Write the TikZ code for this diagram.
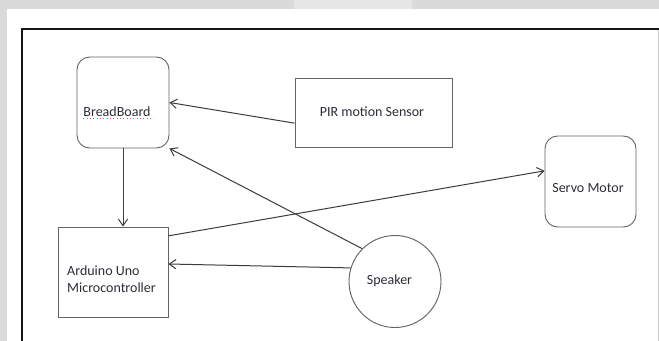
\documentclass[tikz,border=0pt]{standalone}
\usepackage{fontspec}
\setmainfont{Carlito}
\usepackage{tikz}
\usetikzlibrary{positioning, calc, arrows.meta}
\definecolor{pgBack}{RGB}{218, 218, 218}
\definecolor{pgMark}{RGB}{230, 230, 230}
\definecolor{pgLine}{RGB}{60, 60, 60}
\definecolor{pgEdge}{RGB}{100, 100, 100}
\definecolor{pgText}{RGB}{45, 45, 55}
\definecolor{pgFrame}{RGB}{20, 20, 20}
\tikzset{
    base/.style={
        font=\fontsize{10.5}{12.75}\selectfont,
        text=pgText,
        inner sep=0pt
    },
    block/.style={
        rectangle,
        draw=pgEdge,
        line width=0.7pt,
        fill=white
    },
    softblock/.style={
        block,
        rounded corners=9.5pt
    },
    sound/.style={
        circle,
        draw=pgEdge,
        line width=0.7pt,
        fill=white,
        minimum size=69pt
    },
    flow/.style={
        -{Straight Barb[length=5pt, width=7pt]},
        line width=0.75pt,
        color=pgLine
    },
    caption/.style={
        base,
        align=left
    }
}
\begin{document}
\begin{tikzpicture}[x=0.75pt, y=-0.75pt]
  % Page
  \useasboundingbox (0,0) rectangle (659,341);
  \fill[pgBack] (0,0) rectangle (659,341);
  \fill[pgMark] (294,0) rectangle (412,9);
  \fill[white] (7,9) rectangle (659,341);
  \draw[gray!40, line width=0.6pt] (658,30) -- (658,341);
  \draw[pgFrame, line width=1.6pt] (659,29) -- (22,29) -- (22,341);

  % Blocks
  \node[softblock, minimum width=69pt, minimum height=68.25pt] (bread) at (123,102.5) {};
  \node[block, minimum width=117.75pt, minimum height=51.75pt] (pir) at (373.5,112.5) {};
  \node[softblock, minimum width=68.25pt, minimum height=68.25pt] (servo) at (590.5,181.5) {};
  \node[block, minimum width=82.5pt, minimum height=67.5pt] (ard) at (113,272) {};
  \node[sound] (spk) at (395,281.5) {};

  % Texts
  \node[caption] (breadtxt) at (117,112) {BreadBoard};
  \draw[red!75, dotted, line width=0.5pt] ([yshift=-1.5pt]breadtxt.base west) -- ([yshift=-1.5pt]breadtxt.base east);
  \node[caption] (pirtxt) at (372,112) {PIR motion Sensor};
  \node[caption] (servotxt) at (588,188) {Servo Motor};
  \node[caption] (ardtxt) at (111.5,279) {Arduino Uno\\Microcontroller};
  \node[caption] (spktxt) at (389.5,281) {Speaker};

  % Connections
  \draw[flow] (bread.south) -- (bread.south |- ard.north);
  \draw[flow] ([yshift=-8pt]pir.west) -- (bread.east);
  \draw[flow] (spk.135) -- (bread.south east);
  \draw[flow] (spk.163) -- ([yshift=6pt]ard.east);
  \draw[flow] ([yshift=-7pt]ard.north east) -- ([yshift=8pt]servo.west);
\end{tikzpicture}
\end{document}
